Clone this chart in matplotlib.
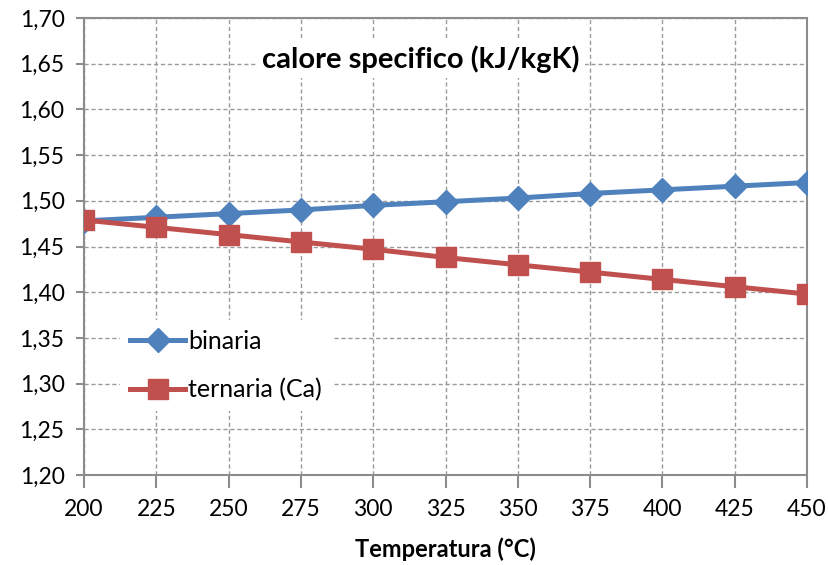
import matplotlib.pyplot as plt
from matplotlib.ticker import FuncFormatter

plt.rcParams['font.family'] = ['Lato', 'DejaVu Sans']

temperature = [200, 225, 250, 275, 300, 325, 350, 375, 400, 425, 450]
binaria = [1.478, 1.482, 1.486, 1.490, 1.495, 1.499, 1.503, 1.508, 1.512, 1.516, 1.520]
ternaria = [1.479, 1.471, 1.463, 1.455, 1.447, 1.438, 1.430, 1.422, 1.414, 1.406, 1.398]

fig = plt.figure(figsize=(8.29, 5.65), dpi=100)
ax = fig.add_axes([0.1013, 0.1593, 0.8722, 0.8088])

ax.plot(temperature, binaria, color='#4F81BD', lw=3.6, marker='D', ms=12,
        label='binaria', zorder=3)
ax.plot(temperature, ternaria, color='#C0504D', lw=3.6, marker='s', ms=14.5,
        label='ternaria (Ca)', zorder=3)

ax.set_xlim(200, 450)
ax.set_ylim(1.20, 1.70)
ax.set_xticks(temperature)
ax.set_yticks([1.20 + 0.05*i for i in range(11)])
ax.yaxis.set_major_formatter(FuncFormatter(lambda v, p: f'{v:.2f}'.replace('.', ',')))

ax.grid(True, linestyle=(0, (3, 2)), color='#999999', lw=1)
for s in ax.spines.values():
    s.set_color('#8c8c8c')
    s.set_linewidth(1.5)
ax.tick_params(axis='both', colors='#8c8c8c', labelcolor='black', labelsize=16.5, width=1.5)
ax.tick_params(axis='y', length=6, pad=8)
ax.tick_params(axis='x', length=9, pad=8)

ax.text(0.466, 0.91, 'calore specifico (kJ/kgK)', transform=ax.transAxes,
        ha='center', va='center', fontsize=21, fontweight='bold',
        bbox=dict(facecolor='white', edgecolor='none', pad=4), zorder=2)
ax.set_xlabel('Temperatura (°C)', fontsize=17, fontweight='bold', labelpad=13)

leg = ax.legend(loc='center left', bbox_to_anchor=(0.05, 0.239), fontsize=18,
                frameon=True, facecolor='white', edgecolor='none', fancybox=False,
                framealpha=1, borderaxespad=0, handlelength=2.2, handletextpad=0.12,
                labelspacing=1.0, borderpad=0.4)
leg.set_zorder(2)

fig.savefig('out.png', dpi=100)
